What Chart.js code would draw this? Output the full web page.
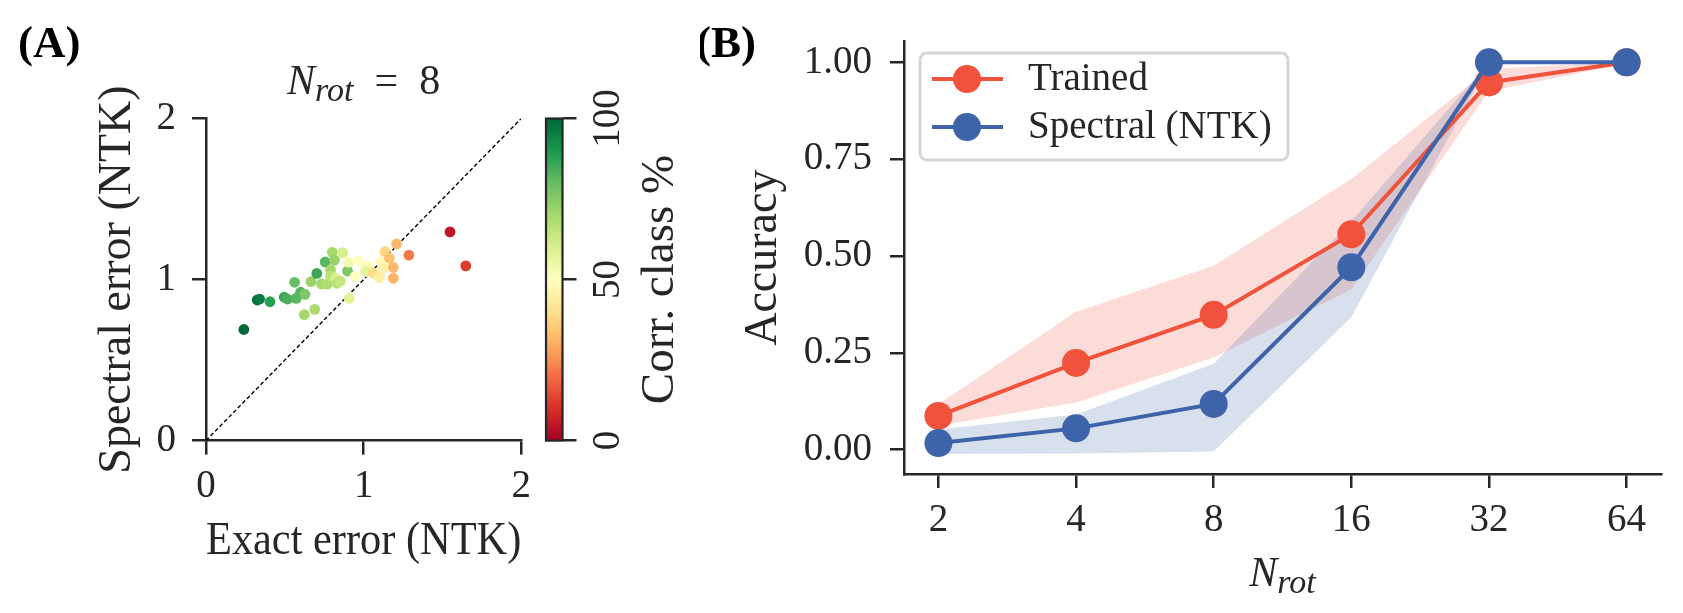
<!DOCTYPE html>
<html>
<head>
<meta charset="utf-8">
<script src="https://cdn.jsdelivr.net/npm/chart.js@4.4.1/dist/chart.umd.min.js"></script>
<style>
  body { margin: 0; background: #fff; }
  #wrap { position: relative; width: 1683px; height: 613px; overflow: hidden; }
  canvas { position: absolute; top: 0; }
</style>
</head>
<body>
<div id="wrap">
  <canvas id="chartA" width="540" height="613" style="left:0px"></canvas>
  <canvas id="chartCb" width="170" height="613" style="left:530px"></canvas>
  <canvas id="chartB" width="983" height="613" style="left:700px"></canvas>
</div>
<script>
// ---- panel A data: exact vs spectral error, coloured by correct-class %
const exactErr = [0.24, 0.325, 0.34, 0.406, 0.496, 0.517, 0.562, 0.572, 0.6, 0.628,
  0.624, 0.69, 0.666, 0.703, 0.732, 0.756, 0.769, 0.79, 0.801, 0.815,
  0.79, 0.821, 0.831, 0.867, 0.898, 0.904, 0.909, 0.945, 0.97, 1.008,
  1.024, 1.018, 1.059, 1.1, 1.111, 1.136, 1.163, 1.126, 1.188, 1.188,
  1.209, 1.287, 1.548, 1.648, 0.852];
const spectralErr = [0.69, 0.873, 0.879, 0.862, 0.89, 0.879, 0.983, 0.883, 0.921, 0.908,
  0.782, 0.815, 0.987, 1.038, 0.973, 1.109, 0.972, 1.06, 1.169, 1.121,
  1.022, 1.008, 0.977, 1.167, 1.053, 1.108, 0.883, 1.018, 1.116, 1.059,
  1.084, 1.049, 1.043, 1.012, 1.111, 1.173, 1.132, 1.07, 1.076, 1.008,
  1.221, 1.152, 1.296, 1.085, 0.99];
const corrPct = [100, 98, 96, 88, 86, 84, 80, 82, 82, 76,
  70, 69, 72, 86, 70, 82, 68, 70, 70, 72,
  66, 60, 66, 60, 76, 53, 58, 50, 50, 52,
  48, 57, 40, 44, 49, 38, 34, 45, 32, 31,
  32, 22, 5, 12, 64];
const diagLine = [0, 2];
const errTicks = [0, 1, 2];
const cbTicks = [0, 50, 100];

// ---- panel B data
const nRot = [2, 4, 8, 16, 32, 64];
const trainedAcc = [0.087, 0.224, 0.348, 0.556, 0.948, 1.0];
const trainedLo = [0.062, 0.122, 0.238, 0.414, 0.925, 0.997];
const trainedHi = [0.117, 0.356, 0.475, 0.699, 0.983, 1.0];
const spectralAcc = [0.017, 0.055, 0.118, 0.471, 1.0, 1.0];
const spectralLo = [-0.011, -0.01, -0.005, 0.342, 0.998, 1.0];
const spectralHi = [0.052, 0.091, 0.222, 0.59, 1.0, 1.0];
const accTicks = [0, 0.25, 0.5, 0.75, 1.0];

const TXT = '#262626';
const SERIF = "'Liberation Serif', 'DejaVu Serif', serif";
const RED = '#f0523c';
const BLUE = '#3d64a8';

// RdYlGn colormap stops
const rdylgn = ['#a50026', '#d73027', '#f46d43', '#fdae61', '#fee08b', '#ffffbf',
  '#d9ef8b', '#a6d96a', '#66bd63', '#1a9850', '#006837'];
function hex2rgb(h) {
  return [parseInt(h.slice(1, 3), 16), parseInt(h.slice(3, 5), 16), parseInt(h.slice(5, 7), 16)];
}
function cmap(v) {
  const t = Math.max(0, Math.min(1, v / 100)) * (rdylgn.length - 1);
  const i = Math.min(Math.floor(t), rdylgn.length - 2);
  const f = t - i;
  const a = hex2rgb(rdylgn[i]), b = hex2rgb(rdylgn[i + 1]);
  const c = a.map((x, k) => Math.round(x + (b[k] - x) * f));
  return 'rgb(' + c.join(',') + ')';
}

function drawRich(ctx, parts, cx, baseY) {
  let w = 0;
  parts.forEach((p) => { ctx.font = p.font; p.w = ctx.measureText(p.t).width; w += p.w; });
  let x = cx - w / 2;
  ctx.textAlign = 'left';
  ctx.textBaseline = 'alphabetic';
  parts.forEach((p) => { ctx.font = p.font; ctx.fillText(p.t, x, baseY + (p.dy || 0)); x += p.w; });
}

function nRotParts(extra) {
  const parts = [
    { t: 'N', font: 'italic 42px ' + SERIF },
    { t: 'rot', font: 'italic 34px ' + SERIF, dy: 7 },
  ];
  if (extra) parts.push({ t: extra, font: '42px ' + SERIF });
  return parts;
}

const tickFont = { family: SERIF, size: 39 };
const titleFont = { family: SERIF, size: 46 };

// ---------------- Panel A ----------------
const textA = {
  id: 'textA',
  afterDraw(chart) {
    const { ctx } = chart;
    ctx.save();
    ctx.fillStyle = '#000';
    ctx.font = 'bold 45px ' + SERIF;
    ctx.textAlign = 'left';
    ctx.textBaseline = 'middle';
    ctx.fillText('(A)', 18, 45);
    ctx.fillStyle = TXT;
    const a = chart.chartArea;
    drawRich(ctx, nRotParts('\u2002=\u20028'), (a.left + a.right) / 2, 94);
    ctx.restore();
  },
};

new Chart(document.getElementById('chartA'), {
  type: 'scatter',
  data: {
    datasets: [
      {
        data: exactErr.map((x, i) => ({ x: x, y: spectralErr[i] })),
        backgroundColor: corrPct.map(cmap),
        pointRadius: 5.4,
        pointBorderWidth: 0,
        order: 1,
      },
      {
        type: 'line',
        data: diagLine.map((v) => ({ x: v, y: v })),
        borderColor: '#000',
        borderWidth: 1.4,
        borderDash: [4, 2.5],
        pointRadius: 0,
        order: 2,
      },
    ],
  },
  options: {
    responsive: false,
    animation: false,
    layout: { padding: { left: 0, top: 118.5, right: 12, bottom: 0 } },
    plugins: { legend: { display: false }, tooltip: { enabled: false } },
    scales: {
      x: {
        type: 'linear', min: 0, max: 2,
        afterBuildTicks: (s) => { s.ticks = errTicks.map((v) => ({ value: v })); },
        afterFit: (s) => { s.height = 172.4; },
        grid: { drawOnChartArea: false, tickLength: 14, color: TXT, lineWidth: 2.5 },
        border: { color: TXT, width: 2.5 },
        ticks: { color: TXT, font: tickFont, padding: 9 },
        title: { display: true, text: 'Exact error (NTK)', color: TXT, font: titleFont, padding: { top: 0, bottom: 43 } },
      },
      y: {
        type: 'linear', min: 0, max: 2,
        afterBuildTicks: (s) => { s.ticks = errTicks.map((v) => ({ value: v })); },
        afterFit: (s) => { s.width = 206; },
        grid: { drawOnChartArea: false, tickLength: 14, color: TXT, lineWidth: 2.5 },
        border: { color: TXT, width: 2.5 },
        ticks: { color: TXT, font: tickFont, padding: 16 },
        title: { display: true, text: 'Spectral error (NTK)', color: TXT, font: titleFont, padding: { top: 90, bottom: 0 } },
      },
    },
  },
  plugins: [textA],
});

// ---------------- Colorbar ----------------
const cbPaint = {
  id: 'cbPaint',
  beforeDatasetsDraw(chart) {
    const { ctx, chartArea: a } = chart;
    const g = ctx.createLinearGradient(0, a.bottom, 0, a.top);
    rdylgn.forEach((c, i) => g.addColorStop(i / (rdylgn.length - 1), c));
    ctx.save();
    ctx.fillStyle = g;
    ctx.fillRect(a.left, a.top, a.right - a.left, a.bottom - a.top);
    ctx.strokeStyle = TXT;
    ctx.lineWidth = 2.2;
    ctx.strokeRect(a.left, a.top, a.right - a.left, a.bottom - a.top);
    ctx.restore();
  },
  afterDraw(chart) {
    const { ctx, chartArea: a } = chart;
    ctx.save();
    ctx.fillStyle = TXT;
    ctx.font = '47px ' + SERIF;
    ctx.translate(131, (a.top + a.bottom) / 2);
    ctx.rotate(-Math.PI / 2);
    ctx.textAlign = 'center';
    ctx.textBaseline = 'middle';
    ctx.fillText('Corr. class %', 0, 0);
    ctx.restore();
  },
};

new Chart(document.getElementById('chartCb'), {
  type: 'scatter',
  data: { datasets: [] },
  options: {
    responsive: false,
    animation: false,
    layout: { padding: { left: 16, top: 118.5, right: 0, bottom: 172.4 } },
    plugins: { legend: { display: false }, tooltip: { enabled: false } },
    scales: {
      x: { display: false, min: 0, max: 1 },
      y: {
        position: 'right', min: 0, max: 100,
        afterBuildTicks: (s) => { s.ticks = cbTicks.map((v) => ({ value: v })); },
        afterFit: (s) => { s.width = 137.5; },
        grid: { drawOnChartArea: false, tickLength: 14, color: TXT, lineWidth: 2.5 },
        border: { display: false },
        ticks: { color: TXT, font: tickFont, padding: 3, minRotation: 90, maxRotation: 90, crossAlign: 'center' },
      },
    },
  },
  plugins: [cbPaint],
});

// ---------------- Panel B ----------------
const legendB = {
  id: 'legendB',
  afterDraw(chart) {
    const { ctx } = chart;
    const x0 = 220, y0 = 53, w = 368, h = 107;
    ctx.save();
    ctx.beginPath();
    ctx.roundRect(x0, y0, w, h, 7);
    ctx.fillStyle = 'rgba(255,255,255,0.8)';
    ctx.fill();
    ctx.strokeStyle = '#d6d6d6';
    ctx.lineWidth = 3;
    ctx.stroke();
    const rows = chart.data.datasets.filter((d) => d.showInLegend);
    rows.forEach((d, i) => {
      const y = 79 + i * 48;
      ctx.strokeStyle = d.borderColor;
      ctx.lineWidth = 4;
      ctx.beginPath();
      ctx.moveTo(232, y);
      ctx.lineTo(303, y);
      ctx.stroke();
      ctx.fillStyle = d.borderColor;
      ctx.beginPath();
      ctx.arc(267, y, 14, 0, Math.PI * 2);
      ctx.fill();
      ctx.fillStyle = TXT;
      ctx.font = '39px ' + SERIF;
      ctx.textAlign = 'left';
      ctx.textBaseline = 'middle';
      ctx.fillText(d.label, 328, y + 1);
    });
    ctx.restore();
  },
};

const textB = {
  id: 'textB',
  afterDraw(chart) {
    const { ctx } = chart;
    ctx.save();
    ctx.fillStyle = '#000';
    ctx.font = 'bold 45px ' + SERIF;
    ctx.textAlign = 'left';
    ctx.textBaseline = 'middle';
    ctx.fillText('(B)', -4, 45);
    ctx.fillStyle = TXT;
    const a = chart.chartArea;
    drawRich(ctx, nRotParts(''), (a.left + a.right) / 2, 586);
    ctx.restore();
  },
};

const pts = (arr) => arr.map((v, i) => ({ x: nRot[i], y: v }));
const bandStyle = { borderWidth: 0, pointRadius: 0, showLine: true };

new Chart(document.getElementById('chartB'), {
  type: 'line',
  data: {
    datasets: [
      Object.assign({ data: pts(trainedHi), fill: '+1', backgroundColor: 'rgba(240,82,60,0.2)', order: 6 }, bandStyle),
      Object.assign({ data: pts(trainedLo), fill: false, order: 5 }, bandStyle),
      Object.assign({ data: pts(spectralHi), fill: '+1', backgroundColor: 'rgba(61,100,168,0.2)', order: 4 }, bandStyle),
      Object.assign({ data: pts(spectralLo), fill: false, order: 3 }, bandStyle),
      {
        label: 'Trained', showInLegend: true, data: pts(trainedAcc),
        borderColor: RED, backgroundColor: RED, borderWidth: 4,
        pointRadius: 14, pointBorderWidth: 0, pointBackgroundColor: RED, fill: false, order: 2,
      },
      {
        label: 'Spectral (NTK)', showInLegend: true, data: pts(spectralAcc),
        borderColor: BLUE, backgroundColor: BLUE, borderWidth: 4,
        pointRadius: 14, pointBorderWidth: 0, pointBackgroundColor: BLUE, fill: false, order: 1,
      },
    ],
  },
  options: {
    responsive: false,
    animation: false,
    layout: { padding: { left: 0, top: 36, right: 22, bottom: 0 } },
    plugins: {
      legend: { display: false },
      tooltip: { enabled: false },
      filler: { drawTime: 'beforeDatasetsDraw' },
    },
    scales: {
      x: {
        type: 'logarithmic', min: Math.pow(2, 0.75), max: Math.pow(2, 6.25),
        afterBuildTicks: (s) => { s.ticks = nRot.map((v) => ({ value: v })); },
        afterFit: (s) => { s.height = 139; },
        grid: { drawOnChartArea: false, tickLength: 14, color: TXT, lineWidth: 2.5 },
        border: { color: TXT, width: 2.5 },
        ticks: { color: TXT, font: tickFont, padding: 9, callback: (v) => String(v) },
      },
      y: {
        type: 'linear', min: -0.0628, max: 1.054,
        afterBuildTicks: (s) => { s.ticks = accTicks.map((v) => ({ value: v })); },
        afterFit: (s) => { s.width = 204; },
        grid: { drawOnChartArea: false, tickLength: 14, color: TXT, lineWidth: 2.5 },
        border: { color: TXT, width: 2.5 },
        ticks: { color: TXT, font: tickFont, padding: 18, callback: (v) => Number(v).toFixed(2) },
        title: { display: true, text: 'Accuracy', color: TXT, font: titleFont, padding: { top: 36, bottom: 0 } },
      },
    },
  },
  plugins: [legendB, textB],
});
</script>
</body>
</html>
